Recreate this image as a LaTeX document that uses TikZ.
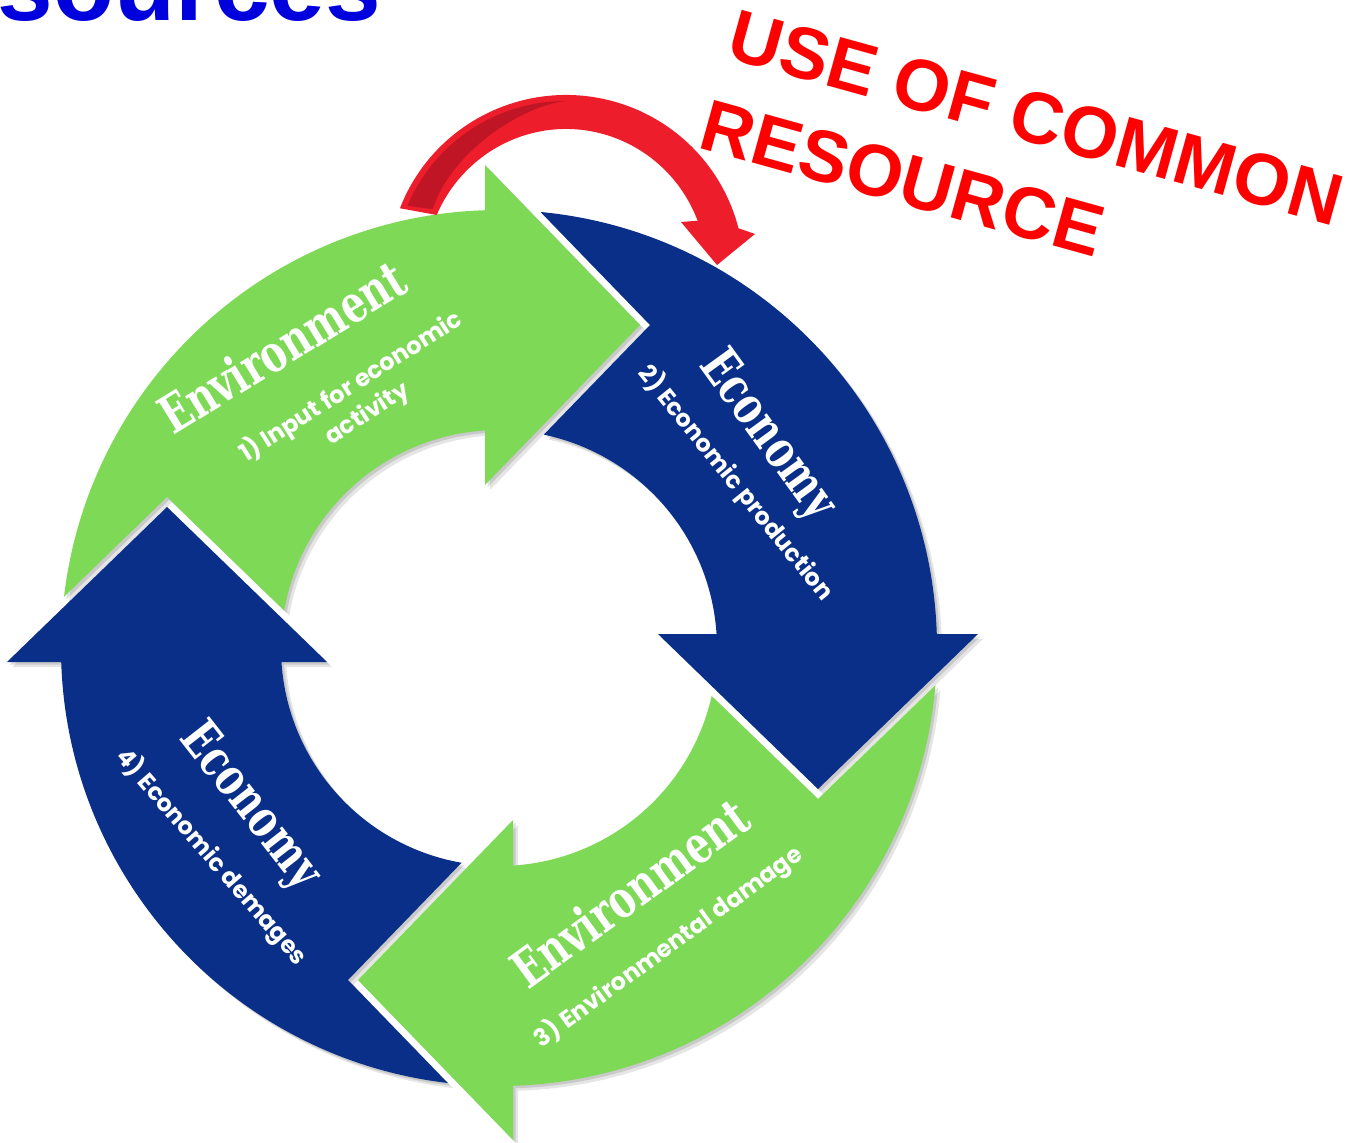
\documentclass[tikz,border=0pt]{standalone}
\usepackage{fontspec}
\setmainfont{Liberation Sans}
\newfontfamily\ringtitlefont{DejaVu Serif}[FakeStretch=0.74]
\newfontfamily\ringsubfont{Poppins}
\definecolor{envgreen}{RGB}{126,217,87}
\definecolor{econblue}{RGB}{9,47,137}
\definecolor{arrowred}{RGB}{238,29,43}
\definecolor{arrowdark}{RGB}{192,21,36}
\definecolor{titleblue}{RGB}{0,0,220}
\definecolor{labelred}{RGB}{255,0,0}
% #1 fill options, #2 rotation, #3 radial shift of own head, #4 radial shift of previous head, #5 centre
\newcommand{\ringarrow}[5]{%
  \pgfmathsetmacro\hb{160+#3}\pgfmathsetmacro\ht{480+#3}\pgfmathsetmacro\hm{320+#3}%
  \pgfmathsetmacro\px{-4.8-#4/100}%
  \pgfmathsetmacro\pd{\px*1.6-0.062}%
  \pgfmathsetmacro\pp{\px*\px+0.0016-19.1844}%
  \pgfmathsetmacro\to{(-\pd-sqrt(\pd*\pd-4.9625*\pp))/4.9625}%
  \pgfmathsetmacro\oxa{100*(\px+1.6*\to)}\pgfmathsetmacro\oya{100*(-0.04+1.55*\to)}%
  \pgfmathsetmacro\oang{atan2(\oya,\oxa)}%
  \pgfmathsetmacro\qx{-1.6-#4/100}%
  \pgfmathsetmacro\qd{-1.6*\qx-0.062}%
  \pgfmathsetmacro\qq{\qx*\qx+0.0016-4.7524}%
  \pgfmathsetmacro\ti{(-\qd+sqrt(\qd*\qd-4.9625*\qq))/4.9625}%
  \pgfmathsetmacro\ixa{100*(\qx-1.6*\ti)}\pgfmathsetmacro\iya{100*(-0.04+1.55*\ti)}%
  \pgfmathsetmacro\iang{atan2(\iya,\ixa)}%
  \pgfmathsetmacro\tipx{-320-#4}%
  \path[#1, shift={#5}, rotate=#2] (-14,217.55) -- (-14,\hb) -- (141,\hm) -- (-14,\ht) -- (-14,437.78)
      arc[start angle=91.83, end angle=\oang, radius=438]
      -- (\tipx,151) -- (\ixa,\iya)
      arc[start angle=\iang, end angle=93.68, radius=218] -- cycle;%
}
\tikzset{
  ringtitle/.style={font=\ringtitlefont\bfseries\fontsize{26}{30}\selectfont, text=white, inner sep=0pt},
  ringsub/.style={font=\ringsubfont\bfseries\fontsize{12}{15}\selectfont, text=white, inner sep=0pt},
  redlabel/.style={font=\bfseries\fontsize{36.5}{44}\selectfont, text=labelred, inner sep=0pt},
  headline/.style={font=\bfseries\fontsize{50}{60}\selectfont, text=titleblue, inner sep=0pt},
}
\begin{document}
\begin{tikzpicture}[x=0.5pt,y=0.5pt]
\useasboundingbox (0,0) rectangle (1352,-1143);
\fill[white] (0,0) rectangle (1352,-1143);

% heading, cut by the top edge
\node[headline, anchor=base west] (head) at (-3,-21) {sources};

% shadows of the cycle arrows
\foreach \r/\s/\p in {0/3/12,-90/-1/3,-180/12/-1,-270/12/12} {
  \ringarrow{fill=black, opacity=0.10}{\r}{\s}{\p}{(504,-653)}
  \ringarrow{fill=black, opacity=0.12}{\r}{\s}{\p}{(501.5,-650.5)}
}
% cycle arrows
\foreach \r/\c/\s/\p in {0/envgreen/3/12,-90/econblue/-1/3,-180/envgreen/12/-1,-270/econblue/12/12} {
  \ringarrow{fill=\c}{\r}{\s}{\p}{(499,-648)}
}

% red curved arrow
\begin{scope}[shift={(566,-272)}]
  \fill[arrowred] (158.9:178 and 177)
    arc[start angle=158.9, end angle=14.3, x radius=178, y radius=177]
    -- (189,38) -- (151,7) -- (115,50)
    -- (21:141 and 143)
    arc[start angle=21, end angle=156.5, x radius=141, y radius=143] -- cycle;
  \fill[arrowdark] (157.3:172 and 171)
    arc[start angle=157.3, end angle=90, x radius=172, y radius=171]
    .. controls (-45,166) and (-115,120) .. (-133.2,63) -- cycle;
\end{scope}

% red label
\node[redlabel, rotate=-15.5, anchor=base west] (use1) at (724,-57) {USE OF COMMON};
\node[redlabel, rotate=-15.5, anchor=base west] (use2) at (696,-147) {RESOURCE};

% texts in the cycle
\node[ringtitle, rotate=31.5, anchor=base] (t1) at (292,-363) {Environment};
\node[ringsub, rotate=32.5, anchor=base] (s1a) at (355,-393) {1) Input for economic};
\node[ringsub, rotate=32.5, anchor=base] (s1b) at (371,-420) {activity};
\node[ringtitle, rotate=-54, anchor=base] (t2) at (756,-444) {Economy};
\node[ringsub, rotate=-51, anchor=base] (s2) at (730,-488) {2) Economic production};
\node[ringtitle, rotate=36, anchor=base] (t3) at (641,-908) {Environment};
\node[ringsub, rotate=36, anchor=base] (s3) at (673,-953) {3) Environmental damage};
\node[ringtitle, rotate=-52, anchor=base] (t4) at (239,-815) {Economy};
\node[ringsub, rotate=-49, anchor=base] (s4) at (206,-862) {4) Economic demages};
\end{tikzpicture}
\end{document}
